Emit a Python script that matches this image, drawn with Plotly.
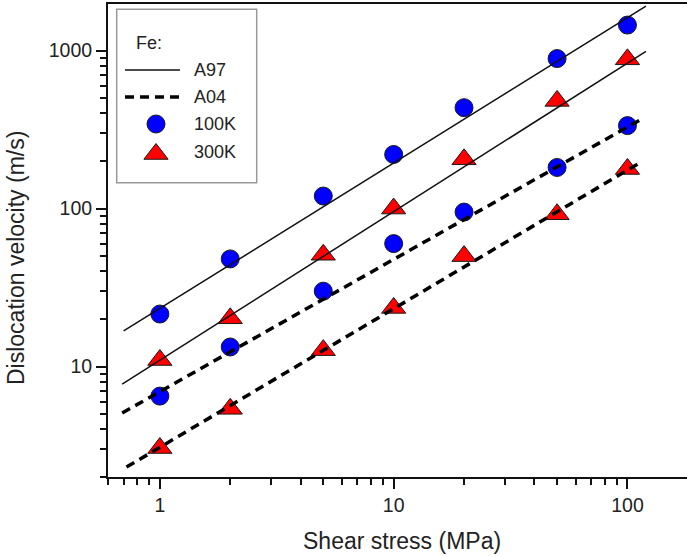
import plotly.graph_objects as go

# ---------------- data ----------------
stress = [1, 2, 5, 10, 20, 50, 100]
v_a97_100k = [21.5, 48, 120, 220, 435, 890, 1450]
v_a97_300k = [11, 20.2, 51, 100, 205, 480, 880]
v_a04_100k = [6.5, 13.3, 30, 60, 95, 182, 335]
v_a04_300k = [3.05, 5.4, 12.7, 23.5, 50, 92, 178]

# fitted power-law lines (end points on log-log axes)
fit_a97_100k_x = [0.70, 120]
fit_a97_100k_y = [16.8, 1910]
fit_a97_300k_x = [0.69, 120]
fit_a97_300k_y = [7.74, 989]
fit_a04_100k_x = [0.69, 114]
fit_a04_100k_y = [5.08, 366]
fit_a04_300k_x = [0.72, 115]
fit_a04_300k_y = [2.31, 198]

x_major = [1, 10, 100]
x_major_text = ["1", "10", "100"]
x_minor = [0.6, 0.7, 0.8, 0.9, 2, 3, 4, 5, 6, 7, 8, 9,
           20, 30, 40, 50, 60, 70, 80, 90]
y_major = [10, 100, 1000]
y_major_text = ["10", "100", "1000"]
y_minor = [2, 3, 4, 5, 6, 7, 8, 9, 20, 30, 40, 50, 60, 70, 80, 90,
           200, 300, 400, 500, 600, 700, 800, 900]

legend_title = "Fe:"
legend_labels = ["A97", "A04", "100K", "300K"]

# ---------------- layout geometry ----------------
W, H = 687, 556
L, R, T, B = 108, 0, 4, 79
PW, PH = W - L - R, H - T - B


def px(xp):
    return (xp - L) / PW


def py(yp):
    return (H - B - yp) / PH


BLUE = "#0000FF"
RED = "#FF0000"
EDGE = "#1a1a1a"
MSIZE = 18
TSIZE = 21

fig = go.Figure()

# markers (drawn first, lines pass over them)
for yv, sym, col, sz in [(v_a97_100k, "circle", BLUE, MSIZE),
                         (v_a97_300k, "triangle-up", RED, TSIZE),
                         (v_a04_100k, "circle", BLUE, MSIZE),
                         (v_a04_300k, "triangle-up", RED, TSIZE)]:
    fig.add_trace(go.Scatter(x=stress, y=yv, mode="markers",
                             marker=dict(symbol=sym, size=sz, color=col,
                                         line=dict(color=EDGE, width=1)),
                             showlegend=False, hoverinfo="skip"))

solid = dict(color="#111111", width=1.5)
dashed = dict(color="#000000", width=3.5, dash="9px,6px")
for xs, ys, ln in [(fit_a97_100k_x, fit_a97_100k_y, solid),
                   (fit_a97_300k_x, fit_a97_300k_y, solid),
                   (fit_a04_100k_x, fit_a04_100k_y, dashed),
                   (fit_a04_300k_x, fit_a04_300k_y, dashed)]:
    fig.add_trace(go.Scatter(x=xs, y=ys, mode="lines", line=ln,
                             showlegend=False, hoverinfo="skip"))

# legend markers on an overlay pixel axis
fig.add_trace(go.Scatter(x=[156], y=[124], xaxis="x2", yaxis="y2", mode="markers",
                         marker=dict(symbol="circle", size=MSIZE, color=BLUE,
                                     line=dict(color=EDGE, width=1)),
                         showlegend=False, hoverinfo="skip"))
fig.add_trace(go.Scatter(x=[156], y=[154], xaxis="x2", yaxis="y2", mode="markers",
                         marker=dict(symbol="triangle-up", size=TSIZE, color=RED,
                                     line=dict(color=EDGE, width=1)),
                         showlegend=False, hoverinfo="skip"))

tickfont = dict(family="Liberation Sans, Arial, sans-serif", size=19.5, color="#222222")

fig.update_layout(
    width=W, height=H,
    margin=dict(l=L, r=R, t=T, b=B),
    paper_bgcolor="white", plot_bgcolor="white",
    font=dict(family="Liberation Sans, Arial, sans-serif", color="#222222"),
    xaxis=dict(type="log", range=[-0.2218, -0.2218 + PW / 233.8],
               tickvals=x_major, ticktext=x_major_text, ticks="outside",
               ticklen=10, tickwidth=1.5, tickcolor="#111111",
               minor=dict(tickvals=x_minor, ticks="outside", ticklen=6,
                          tickwidth=1.5, tickcolor="#111111", showgrid=False),
               showline=True, linecolor="#111111", linewidth=2, mirror=True,
               showgrid=False, zeroline=False, tickfont=tickfont),
    yaxis=dict(type="log", range=[0.301, 0.301 + PH / 158.0],
               tickvals=y_major, ticktext=y_major_text, ticks="outside",
               ticklen=10, tickwidth=1.5, tickcolor="#111111",
               minor=dict(tickvals=y_minor, ticks="outside", ticklen=6,
                          tickwidth=1.5, tickcolor="#111111", showgrid=False),
               showline=True, linecolor="#111111", linewidth=2, mirror=False,
               showgrid=False, zeroline=False, tickfont=tickfont),
    xaxis2=dict(overlaying="x", range=[L, W - R], visible=False, fixedrange=True),
    yaxis2=dict(overlaying="y", range=[H - B, T], visible=False, fixedrange=True),
)

shapes = [
    dict(type="rect", xref="paper", yref="paper",
         x0=px(116.7), x1=px(256.7), y0=py(182.7), y1=py(9.3),
         line=dict(color="#999999", width=1.5), fillcolor="white", layer="below"),
    dict(type="line", xref="paper", yref="paper",
         x0=px(125), x1=px(180), y0=py(70), y1=py(70),
         line=dict(color="#111111", width=1.5)),
    dict(type="line", xref="paper", yref="paper",
         x0=px(125), x1=px(180), y0=py(97), y1=py(97),
         line=dict(color="#000000", width=3.5, dash="9px,6px")),
]
fig.update_layout(shapes=shapes)

lfont = dict(family="Liberation Sans, Arial, sans-serif", size=18, color="#222222")
ann = [
    dict(text=legend_title, x=px(134), y=py(43), xanchor="left", yanchor="middle"),
    dict(text=legend_labels[0], x=px(192), y=py(70), xanchor="left", yanchor="middle"),
    dict(text=legend_labels[1], x=px(192), y=py(97), xanchor="left", yanchor="middle"),
    dict(text=legend_labels[2], x=px(192), y=py(124), xanchor="left", yanchor="middle"),
    dict(text=legend_labels[3], x=px(192), y=py(152), xanchor="left", yanchor="middle"),
]
for a in ann:
    fig.add_annotation(xref="paper", yref="paper", showarrow=False, font=lfont, **a)

tfont = dict(family="Liberation Sans, Arial, sans-serif", size=23, color="#222222")
fig.add_annotation(text="Shear stress (MPa)", xref="paper", yref="paper",
                   x=px(402), y=py(541), xanchor="center", yanchor="middle",
                   showarrow=False, font=tfont)
fig.add_annotation(text="Dislocation velocity (m/s)", xref="paper", yref="paper",
                   x=px(16), y=py(258), xanchor="center", yanchor="middle",
                   textangle=-90, showarrow=False, font=tfont)

fig.write_html("out.html")
